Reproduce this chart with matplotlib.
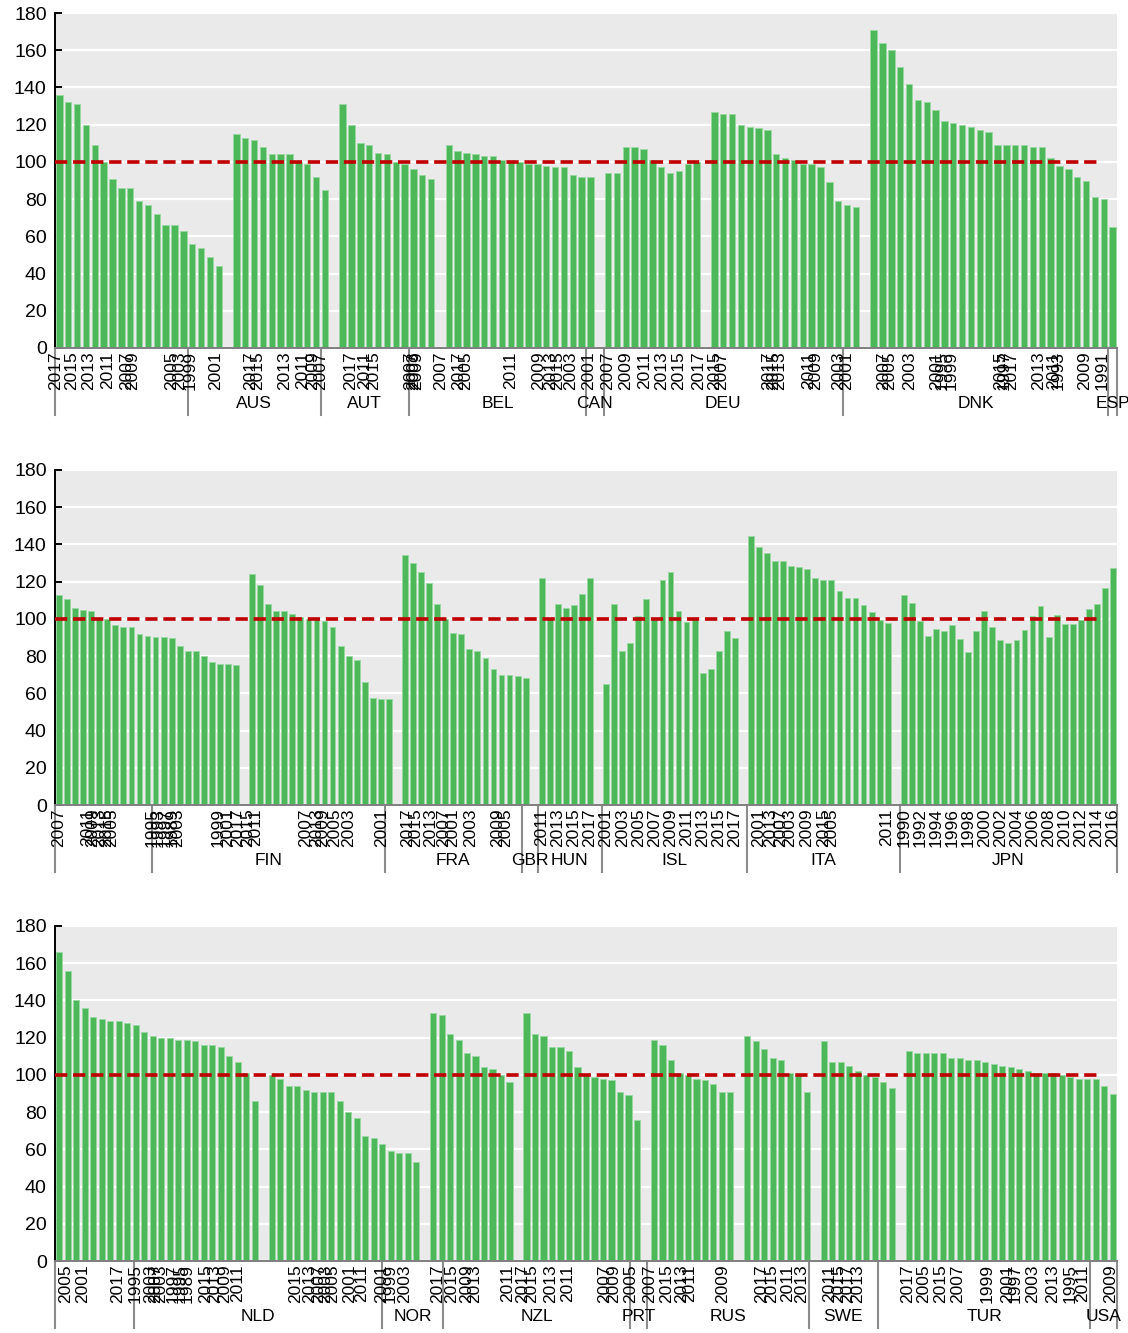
import numpy as np
import matplotlib.pyplot as plt

plt.rcParams['font.family'] = ['Liberation Sans Narrow', 'Liberation Sans', 'DejaVu Sans']

GREEN = '#4cb85a'
EDGE = '#9bd8a3'
RED = '#c00000'
GRAY = '#8c8c8c'

# ---- panel 1 ----
p1_bars = [
    [136, 132, 131, 120, 109, 100, 91, 86, 86, 79, 77, 72, 66, 66, 63, 56, 54, 49, 44],
    [115, 113, 112, 108, 104, 104, 104, 100, 99, 92, 85],
    [131, 120, 110, 109, 105, 104, 100, 99, 96, 93, 91],
    [109, 106, 105, 104, 103, 103, 101, 100, 100, 99, 99, 98, 97, 97, 93, 92, 92],
    [94, 94, 108, 108, 107, 101, 97, 94, 95, 99, 100],
    [127, 126, 126, 120, 119, 118, 117, 104, 102, 101, 99, 99, 97, 89, 79, 77, 76],
    [171, 164, 160, 151, 142, 133, 132, 128, 122, 121, 120, 119, 117, 116, 109, 109,
     109, 109, 108, 108, 102, 98, 96, 92, 90, 81, 80, 65],
]
p1_countries = ['', 'AUS', 'AUT', 'BEL', 'CAN', 'DEU', 'DNK', 'ESP']
p1_sizes = [15, 15, 10, 20, 2, 27, 30, 1]
p1_years = ['2017', '2015', '2013', '2011', '2007', '2009', '2005', '2003', '1999', '2001',
            '2017', '2015', '2013', '2011', '2009', '2007', '2017', '2011', '2015',
            '2007', '2003', '2009', '2007', '2017', '2005', '2011', '2009', '2013', '2015',
            '2003', '2001', '2007', '2009', '2011', '2013', '2015', '2017', '2015', '2007',
            '2017', '2015', '2013', '2011', '2009', '2003', '2001', '2007', '2005', '2003',
            '2001', '1995', '1999', '2015', '1997', '2017', '2013', '2011', '1993', '2009', '1991']
p1_year_pos = [-0.4, 1.4, 3.3, 5.5, 7.6, 8.3, 12.7, 13.6, 14.8, 17.6,
               21.6, 22.4, 25.5, 27.5, 28.6, 29.5, 32.9, 34.5, 35.5,
               39.7, 40.0, 40.4, 43.1, 45.1, 45.9, 51.0, 54.2, 55.5, 56.3,
               57.8, 59.8, 62.0, 64.0, 66.1, 68.1, 70.0, 72.2, 74.0, 74.8,
               80.1, 80.7, 81.4, 84.7, 85.5, 88.1, 88.9, 93.1, 93.8, 96.1,
               99.1, 99.7, 100.8, 106.3, 106.8, 107.6, 110.7, 112.3, 112.8, 115.8, 117.8]

# ---- panel 2 ----
p2_bars = [
    [113, 110.5, 106, 105, 104, 100, 100, 96.5, 95.5, 95.5, 92, 91, 90.5, 90.5, 90,
     85.5, 82.5, 82.5, 80, 77, 76, 76, 75],
    [124, 118, 108, 104.5, 104, 102.5, 101, 100, 100, 99, 95.5, 85.5, 80, 78, 66, 57.5, 57, 57],
    [134.5, 130, 125, 119.5, 108, 100, 92.5, 92, 84, 83, 79, 73, 70, 70, 69.5, 68],
    [122, 100, 108, 106, 107.5, 113.5, 122],
    [65, 108, 82.5, 87, 101.5, 110.5, 100, 121, 125, 104.5, 98.5, 100, 71, 73, 82.5, 93.5, 89.5],
    [144.5, 138.5, 135.5, 131, 131, 128.5, 128, 127, 122, 121, 121, 115, 111, 111, 107.5,
     103.5, 99.5, 98],
    [113, 108.5, 99, 91, 94.5, 93.5, 96.5, 89, 82, 93.5, 104.5, 95.5, 88.5, 87, 88.5, 94,
     101.5, 107, 90.5, 102, 97, 97, 99.5, 105.5, 108, 116.5, 127.5],
]
p2_countries = ['', 'FIN', 'FRA', 'GBR', 'HUN', 'ISL', 'ITA', 'JPN']
p2_sizes = [12, 29, 17, 2, 8, 18, 19, 27]
p2_years = ['2007', '2011', '2009', '2013', '2015', '2005', '1995', '1993', '1997', '1989',
            '2003', '1999', '2001', '2017', '2015', '2011', '2007', '2013', '2009', '2005',
            '2003', '2001', '2017', '2015', '2013', '2007', '2001', '2003', '2009', '2005',
            '2011', '2013', '2015', '2017', '2001', '2003', '2005', '2007', '2009', '2011',
            '2013', '2015', '2017', '2001', '2013', '2007', '2003', '2009', '2015', '2005',
            '2011', '1990', '1992', '1994', '1996', '1998', '2000', '2002', '2004', '2006',
            '2008', '2010', '2012', '2014', '2016']
p2_year_pos = [0.0, 3.5, 4.2, 5.1, 5.9, 6.6, 11.6, 12.3, 13.2, 14.1,
               14.8, 19.8, 21.0, 22.2, 23.4, 24.4, 30.6, 32.0, 32.8, 34.2,
               36.0, 40.1, 43.3, 44.3, 46.2, 47.8, 48.9, 51.2, 54.5, 55.5,
               60.0, 62.0, 64.0, 66.0, 68.0, 70.0, 72.0, 74.0, 76.0, 78.0,
               80.0, 82.0, 84.0, 86.9, 88.5, 89.7, 90.8, 92.9, 95.0, 96.0,
               102.9, 105, 107, 109, 111, 113, 115, 117, 119, 121,
               123, 125, 127, 129, 131]

# ---- panel 3 ----
p3_bars = [
    [166, 156, 140, 136, 131, 130, 129, 129, 128, 127, 123, 121, 120, 120, 119, 119, 118,
     116, 116, 115, 110, 107, 101, 86],
    [100, 98, 94, 94, 92, 91, 91, 91, 86, 80, 77, 67, 66, 63, 59, 58, 58, 53],
    [133, 132, 122, 119, 112, 110, 104, 103, 100, 96],
    [133, 122, 121, 115, 115, 113, 104, 100, 99, 98, 97, 91, 89, 76],
    [119, 116, 108, 101, 100, 98, 97, 95, 91, 91],
    [121, 118, 114, 109, 108, 101, 100, 91],
    [118, 107, 107, 105, 102, 100, 99, 96, 93],
    [113, 112, 112, 112, 112, 109, 109, 108, 108, 107, 106, 105, 104, 103, 102, 101, 101,
     101, 100, 99, 98, 98, 98, 94, 90],
]
p3_countries = ['', 'NLD', 'NOR', 'NZL', 'PRT', 'RUS', 'SWE', 'TUR', 'USA']
p3_sizes = [9.3, 29.2, 7.2, 22, 2, 19, 8.2, 24.9, 3.2]
p3_years = ['2005', '2001', '2017', '1995', '2003', '2007', '2003', '1997', '1995', '1989',
            '2015', '2013', '2009', '2011', '2015', '2013', '2007', '2003', '2005', '2001',
            '2011', '2001', '1999', '2003', '2017', '2015', '2009', '2013', '2011', '2017',
            '2015', '2013', '2011', '2007', '2009', '2005', '2007', '2015', '2013', '2011',
            '2009', '2017', '2015', '2011', '2013', '2011', '2015', '2017', '2013', '2017',
            '2005', '2015', '2007', '1999', '2001', '1997', '2003', '2013', '1995', '2011', '2009']
p3_year_pos = [0.7, 2.8, 6.9, 8.9, 10.7, 11.3, 11.9, 13.4, 14.2, 15.0,
               17.2, 18.3, 19.5, 21.0, 27.8, 29.5, 30.5, 31.3, 32.2, 34.2,
               35.6, 38.0, 38.9, 40.7, 44.5, 46.2, 48.0, 48.9, 52.8, 54.5,
               55.6, 57.8, 59.8, 64.2, 65.2, 67.2, 69.5, 71.5, 73.3, 74.2,
               78.1, 82.7, 83.9, 85.7, 87.4, 90.7, 91.7, 92.8, 94.0, 99.8,
               101.7, 103.7, 105.7, 109.2, 111.6, 112.5, 114.6, 116.9, 119.0, 120.4, 123.7]

panels = [
    (p1_bars, p1_years, p1_year_pos, p1_countries, p1_sizes),
    (p2_bars, p2_years, p2_year_pos, p2_countries, p2_sizes),
    (p3_bars, p3_years, p3_year_pos, p3_countries, p3_sizes),
]

fig = plt.figure(figsize=(11.28, 13.33), dpi=100)
tops = [13, 470, 926]  # top edge of each plot area, pixels from top
H = 335

for (bars, years, year_pos, countries, sizes), top in zip(panels, tops):
    ax = fig.add_axes([55 / 1128, (1333 - top - H) / 1333, 1062 / 1128, H / 1333])

    # bars, one empty slot between groups
    vals = []
    for i, g in enumerate(bars):
        if i > 0:
            vals.append(np.nan)
        vals.extend(g)
    vals = np.array(vals, dtype=float)
    x = np.arange(len(vals))
    ok = ~np.isnan(vals)
    ax.bar(x[ok], vals[ok], width=0.72, color=GREEN, edgecolor=EDGE, linewidth=0.7, zorder=2)

    ax.axhline(100, xmax=0.982, color=RED, lw=2.6, dashes=(3.4, 1.6), zorder=3)

    ax.set_facecolor('#eaeaea')
    ax.set_xlim(-0.5, len(vals) - 0.5)
    ax.set_ylim(0, 180)
    ax.set_yticks(range(0, 181, 20))
    ax.yaxis.grid(True, color='white', lw=1.6, zorder=0)
    ax.set_axisbelow(True)
    ax.set_xticks([])
    ax.tick_params(axis='y', direction='in', length=5, width=1.4, labelsize=14, pad=6)
    for s in ['top', 'right']:
        ax.spines[s].set_visible(False)
    ax.spines['left'].set_linewidth(1.4)
    ax.spines['bottom'].set_color('#7f7f7f')
    ax.spines['bottom'].set_linewidth(1.4)

    # year labels
    trans = ax.get_xaxis_transform()
    for yr, p in zip(years, year_pos):
        ax.text(p, -0.01, yr, transform=trans, rotation=90, ha='center', va='top',
                fontsize=12.5)

    # country groups
    edges = np.concatenate([[-0.5], -0.5 + np.cumsum(sizes)])
    for e in edges:
        ax.plot([e, e], [0, -0.2], transform=trans, clip_on=False, color=GRAY, lw=1.5)
    for c, a, b in zip(countries, edges[:-1], edges[1:]):
        ax.text((a + b) / 2, -0.165, c, transform=trans, ha='center', va='center',
                fontsize=12.5)

fig.savefig('out.png', dpi=100)
